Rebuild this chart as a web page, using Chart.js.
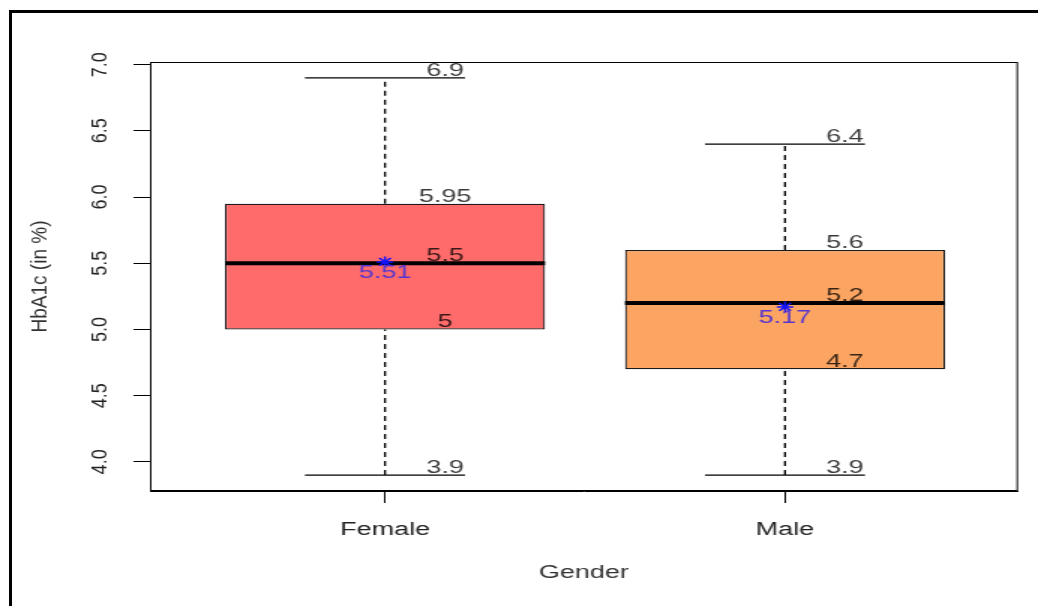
<!DOCTYPE html>
<html>
<head>
<meta charset="utf-8">
<title>HbA1c by gender</title>
<script src="https://cdn.jsdelivr.net/npm/chart.js@4.4.1/dist/chart.umd.min.js"></script>
<style>
  html, body { margin: 0; padding: 0; background: #fff; width: 1038px; height: 606px; overflow: hidden; }
  #frame {
    position: absolute; left: 9px; top: 10px; width: 1100px; height: 700px;
    border-left: 3px solid #000; border-top: 3px solid #000;
  }
  /* the figure is drawn narrow and widened horizontally */
  #wrap {
    position: absolute; left: 0; top: 0; width: 692px; height: 606px;
    transform: scaleX(1.5); transform-origin: 0 0;
  }
</style>
</head>
<body>
<div id="frame"></div>
<div id="wrap"><canvas id="chart"></canvas></div>
<script>
// five-number summaries and means per gender
const groups = ['Female', 'Male'];
const positions = [1, 2];
const minima = [3.9, 3.9];
const lowerQuartiles = [5.0, 4.7];
const medians = [5.5, 5.2];
const upperQuartiles = [5.95, 5.6];
const maxima = [6.9, 6.4];
const means = [5.51, 5.17];
const meanLabels = ['5.51', '5.17'];
const yTickValues = [4.0, 4.5, 5.0, 5.5, 6.0, 6.5, 7.0];
const yTickLabels = ['4.0', '4.5', '5.0', '5.5', '6.0', '6.5', '7.0'];

const boxColors = ['#FF6A6A', '#FCA461'];
const FONT = '"Liberation Sans", Arial, Helvetica, sans-serif';
const HALF_BOX = 0.4;      // half box width, x units
const HALF_CAP = 0.2;      // half whisker cap width, x units
const LABEL_SHIFT = 0.15;  // value labels sit right of the box centre
const SQUEEZE = 0.77;      // rotated text is drawn narrower

Chart.defaults.font.family = FONT;
Chart.defaults.font.size = 18;
Chart.defaults.color = '#222';

function segment(points, extra) {
  return Object.assign({
    type: 'line', data: points, borderColor: '#000', borderWidth: 1.3,
    pointRadius: 0, fill: false, tension: 0, order: 2
  }, extra || {});
}

const datasets = [];
// mean markers
datasets.push({
  type: 'line', showLine: false, order: 0,
  data: positions.map((x, i) => ({ x, y: means[i] })),
  pointStyle: 'star', pointRadius: 5.5, pointBorderWidth: 1.5,
  borderColor: '#1414FF', backgroundColor: '#1414FF'
});
positions.forEach((x, i) => {
  // median bar
  datasets.push(segment([{ x: x - HALF_BOX, y: medians[i] }, { x: x + HALF_BOX, y: medians[i] }],
    { borderWidth: 4, order: 1 }));
  // dashed whiskers
  datasets.push(segment([{ x, y: upperQuartiles[i] }, { x, y: maxima[i] }], { borderDash: [5, 4] }));
  datasets.push(segment([{ x, y: minima[i] }, { x, y: lowerQuartiles[i] }], { borderDash: [5, 4] }));
  // whisker caps
  datasets.push(segment([{ x: x - HALF_CAP, y: maxima[i] }, { x: x + HALF_CAP, y: maxima[i] }], { borderWidth: 1.4 }));
  datasets.push(segment([{ x: x - HALF_CAP, y: minima[i] }, { x: x + HALF_CAP, y: minima[i] }], { borderWidth: 1.4 }));
});
// interquartile boxes
datasets.push({
  type: 'bar', order: 3,
  data: positions.map((x, i) => ({ x, y: [lowerQuartiles[i], upperQuartiles[i]] })),
  backgroundColor: boxColors, borderColor: '#1a1a1a', borderWidth: 1.2, borderSkipped: false,
  categoryPercentage: 1, barPercentage: 2 * HALF_BOX
});

const boxText = {
  id: 'boxText',
  afterDatasetsDraw(chart) {
    const { ctx, chartArea, scales: { x, y } } = chart;
    ctx.save();
    // plot frame
    ctx.strokeStyle = '#000';
    ctx.lineWidth = 1;
    ctx.strokeRect(chartArea.left + 0.5, chartArea.top + 0.5, chartArea.width - 1, chartArea.height - 1);

    ctx.font = '18px ' + FONT;
    ctx.textAlign = 'center';
    positions.forEach((pos, i) => {
      const px = x.getPixelForValue(pos + LABEL_SHIFT);
      ctx.fillStyle = 'rgba(0,0,0,0.78)';
      ctx.textBaseline = 'alphabetic';
      [maxima[i], upperQuartiles[i], medians[i], lowerQuartiles[i], minima[i]].forEach(v => {
        ctx.fillText(String(v), px, y.getPixelForValue(v) - 2);
      });
      ctx.fillStyle = '#5536D0';
      ctx.textBaseline = 'middle';
      ctx.fillText(meanLabels[i], x.getPixelForValue(pos), y.getPixelForValue(means[i]) + 11.5);
    });

    // rotated y tick labels
    ctx.fillStyle = '#222';
    ctx.textBaseline = 'middle';
    yTickValues.forEach((v, k) => {
      ctx.save();
      ctx.translate(chartArea.left - 33, y.getPixelForValue(v));
      ctx.scale(SQUEEZE, 1);
      ctx.rotate(-Math.PI / 2);
      ctx.fillText(yTickLabels[k], 0, 0);
      ctx.restore();
    });

    // y axis title
    ctx.font = '19px ' + FONT;
    ctx.fillStyle = '#333';
    ctx.save();
    ctx.translate(chartArea.left - 73, (chartArea.top + chartArea.bottom) / 2);
    ctx.scale(SQUEEZE, 1);
    ctx.rotate(-Math.PI / 2);
    ctx.fillText('HbA1c (in %)', 0, 0);
    ctx.restore();
    ctx.restore();
  }
};

new Chart(document.getElementById('chart'), {
  type: 'bar',
  data: { datasets },
  options: {
    responsive: true,
    maintainAspectRatio: false,
    animation: false,
    events: [],
    layout: { padding: { top: 62, right: 13.33, bottom: 0, left: 0 } },
    plugins: { legend: { display: false }, tooltip: { enabled: false } },
    scales: {
      x: {
        type: 'linear', min: 0.4125, max: 2.5825, offset: false,
        afterBuildTicks: s => { s.ticks = positions.map(v => ({ value: v })); },
        afterFit: s => { s.height = 115; },
        ticks: {
          autoSkip: false, maxRotation: 0, padding: 16, color: '#222',
          callback: v => { const k = positions.indexOf(v); return k >= 0 ? groups[k] : ''; }
        },
        grid: { offset: false, drawOnChartArea: false, drawTicks: true, tickLength: 12, color: '#000', lineWidth: 1 },
        border: { display: true, color: '#000', width: 1 },
        title: { display: true, text: 'Gender', color: '#333', font: { size: 18 }, padding: { top: 0, bottom: 22 } }
      },
      y: {
        type: 'linear', min: 3.78, max: 7.02,
        afterBuildTicks: s => { s.ticks = yTickValues.map(v => ({ value: v })); },
        afterFit: s => { s.width = 100; },
        ticks: { display: false },
        grid: { drawOnChartArea: false, drawTicks: true, tickLength: 11, color: '#000', lineWidth: 1 },
        border: { display: true, color: '#000', width: 1 }
      }
    }
  },
  plugins: [boxText]
});
</script>
</body>
</html>
